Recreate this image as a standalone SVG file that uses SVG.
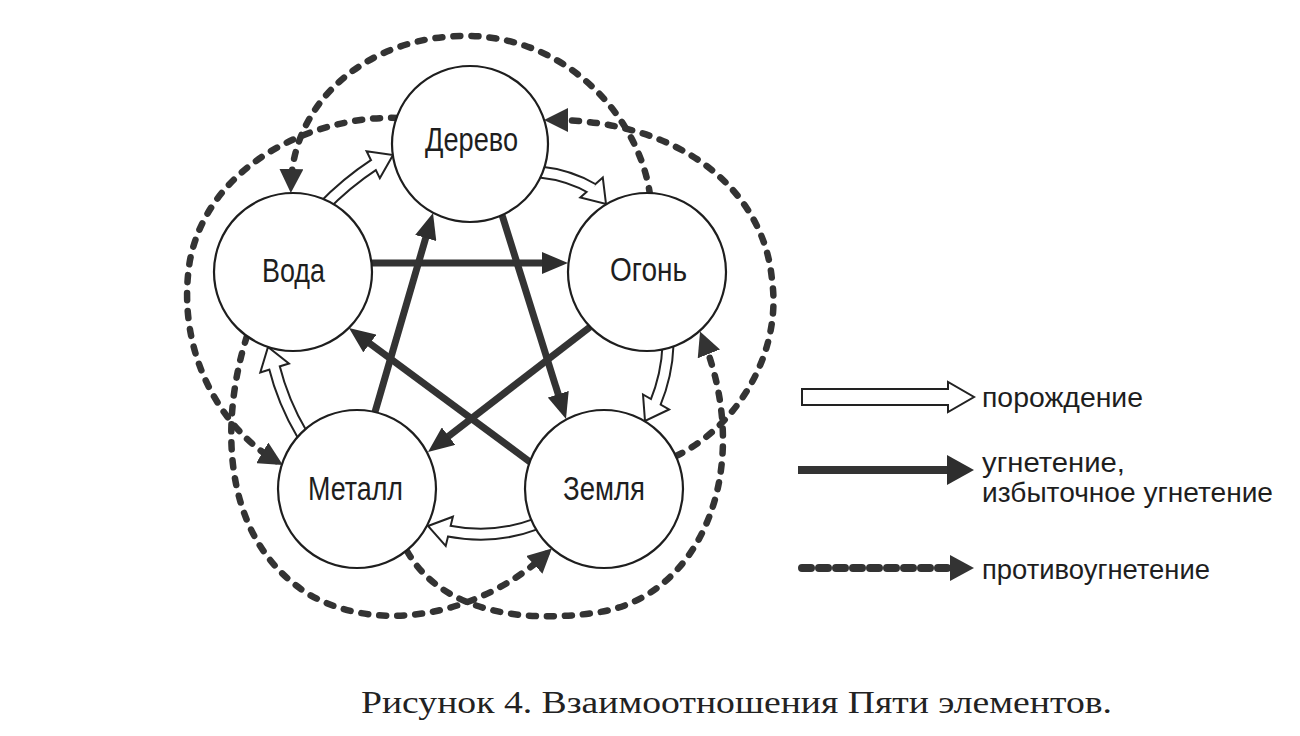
<svg xmlns="http://www.w3.org/2000/svg" xmlns:xlink="http://www.w3.org/1999/xlink" width="1300" height="736" viewBox="0 0 1300 736">
<style>
.node circle{fill:#fff;stroke:#1e1e1e;stroke-width:2.2}
.node text{font-family:"Liberation Sans",Arial,sans-serif;font-size:33px;fill:#1e1e1e}
.ctl{stroke:#333;stroke-width:7;fill:none;marker-end:url(#hs)}
.cc{stroke:#333;stroke-width:6.5;fill:none;stroke-linecap:round;stroke-dasharray:7 11;marker-end:url(#hd)}
.gb{stroke:#222;stroke-width:13;fill:none}
.gw{stroke:#fff;stroke-width:9;fill:none}
.gh{fill:#fff;stroke:#222;stroke-width:2}
.leg{font-family:"Liberation Sans",Arial,sans-serif;font-size:28px;fill:#1e1e1e}
.cap{font-family:"Liberation Serif","Times New Roman",serif;font-size:32px;fill:#222}
</style>
<defs>
<marker id="hs" markerUnits="userSpaceOnUse" viewBox="0 0 26 22" markerWidth="26" markerHeight="22" refX="16" refY="11" orient="auto"><path d="M0,0 L26,11 L0,22 Z" fill="#2e2e2e"/></marker>
<marker id="hd" markerUnits="userSpaceOnUse" viewBox="0 0 24 24" markerWidth="24" markerHeight="24" refX="16" refY="12" orient="auto"><path d="M0,0 L24,12 L0,24 Z" fill="#333"/></marker>
<path id="g1" d="M322,208 Q346,183 375,164"/>
<path id="g2" d="M540,172 Q569,175 593,189"/>
<path id="g3" d="M668,345 Q667,375 655,404"/>
<path id="g4" d="M536,524 Q494,540 447.4,530.8"/>
<path id="g5" d="M302,434 Q283,402 274,366"/>
</defs>
<rect width="1300" height="736" fill="#fff"/>
<g id="connectors">
<!-- counter-control (dashed) -->
<path class="cc" d="M650,195 C640,120 570,38 470,36 C370,34 293,100 291,185"/>
<path class="cc" d="M398,118 C320,115 210,160 190,260 C175,350 220,428 276,461"/>
<path class="cc" d="M247,336 C220,420 220,540 310,595 C380,635 480,615 546,554"/>
<path class="cc" d="M407,551 C440,610 520,625 600,612 C700,596 755,470 703,339"/>
<path class="cc" d="M676,456 C740,425 782,350 772,280 C764,190 680,120 552,120"/>
<!-- control (solid) -->
<path class="ctl" d="M368,263 L558,263"/>
<path class="ctl" d="M502,215 L563,409.5"/>
<path class="ctl" d="M530,462 L357,334"/>
<path class="ctl" d="M590,327 L435.9,445.9"/>
<path class="ctl" d="M375,412 L430.2,222.6"/>
<!-- generation (hollow) -->
<use href="#g1" xlink:href="#g1" class="gb"/><polygon class="gh" points="379.8,178.2 393,155 366.6,151.2"/><use href="#g1" xlink:href="#g1" class="gw"/>
<use href="#g2" xlink:href="#g2" class="gb"/><polygon class="gh" points="602.8,177.6 606,204 580.3,197.4"/><use href="#g2" xlink:href="#g2" class="gw"/>
<use href="#g3" xlink:href="#g3" class="gb"/><polygon class="gh" points="669,409.5 645,421 643,394.5"/><use href="#g3" xlink:href="#g3" class="gw"/>
<use href="#g4" xlink:href="#g4" class="gb"/><polygon class="gh" points="445.7,545.9 428,526 452.9,516.7"/><use href="#g4" xlink:href="#g4" class="gw"/>
<use href="#g5" xlink:href="#g5" class="gb"/><polygon class="gh" points="288.9,363.5 268,347 260.3,372.5"/><use href="#g5" xlink:href="#g5" class="gw"/>
</g>
<g id="node-derevo" class="node"><circle cx="470" cy="144" r="78"/><text x="425" y="151" textLength="93" lengthAdjust="spacingAndGlyphs">Дерево</text></g>
<g id="node-voda" class="node"><circle cx="293" cy="272" r="79"/><text x="262" y="282" textLength="63" lengthAdjust="spacingAndGlyphs">Вода</text></g>
<g id="node-ogon" class="node"><circle cx="647" cy="272" r="79"/><text x="610" y="281" textLength="77" lengthAdjust="spacingAndGlyphs">Огонь</text></g>
<g id="node-metall" class="node"><circle cx="357" cy="489" r="79"/><text x="308" y="500" textLength="95" lengthAdjust="spacingAndGlyphs">Металл</text></g>
<g id="node-zemlya" class="node"><circle cx="604" cy="489" r="79"/><text x="563" y="500" textLength="82" lengthAdjust="spacingAndGlyphs">Земля</text></g>
<g id="legend">
<polygon class="gh" points="802,389 948,389 948,382 974,397 948,412 948,405 802,405"/>
<text class="leg" x="982" y="407" textLength="161" lengthAdjust="spacingAndGlyphs">порождение</text>
<line x1="798" y1="470" x2="952" y2="470" stroke="#333" stroke-width="8"/>
<polygon points="947,455 974,470 947,485" fill="#2e2e2e"/>
<text class="leg" x="982" y="472" textLength="143" lengthAdjust="spacingAndGlyphs">угнетение,</text>
<text class="leg" x="982" y="502" textLength="291" lengthAdjust="spacingAndGlyphs">избыточное угнетение</text>
<line x1="802" y1="568" x2="948" y2="568" stroke="#333" stroke-width="8" stroke-linecap="round" stroke-dasharray="9 8"/>
<polygon points="950,555 974,568 950,581" fill="#333"/>
<text class="leg" x="982" y="579" textLength="228" lengthAdjust="spacingAndGlyphs">противоугнетение</text>
</g>
<text class="cap" x="361" y="713" textLength="751" lengthAdjust="spacingAndGlyphs">Рисунок 4. Взаимоотношения Пяти элементов.</text>
</svg>
